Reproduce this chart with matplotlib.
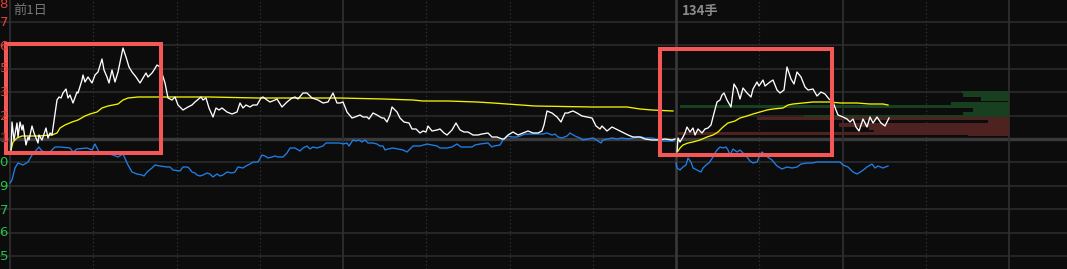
import numpy as np
import matplotlib
matplotlib.use("Agg")
import matplotlib.pyplot as plt
from matplotlib.patches import Rectangle

# ---------------- data (time units: prev day 0..666, today 666..999; value: offset from prev close) ----------------
prev_price_t = [1, 2, 4, 7, 8, 10, 12, 13, 16, 18, 19, 22, 24, 28, 29, 32, 36, 38, 40, 42,
                47, 49, 51, 53, 56, 58, 60, 63, 67, 68, 72, 73, 75, 78, 80, 82, 85, 88, 92, 94,
                97, 99, 102, 105, 108, 113, 116, 119, 122, 126, 130, 133, 136, 138, 142, 144, 147, 150,
                155, 158, 162, 165, 168, 173, 178, 182, 185, 191, 193, 196, 199, 203, 206, 209, 212,
                217, 222, 227, 230, 233, 236, 240, 243, 247, 251, 253, 257, 260, 265, 267, 272, 277,
                282, 285, 288, 293, 297, 302, 308, 313, 318, 323, 327, 330, 333, 337, 342, 345, 350,
                353, 357, 359, 363, 367, 372, 374, 377, 380, 382, 387, 390, 394, 399, 402, 406, 410,
                413, 416, 418, 422, 427, 430, 434, 437, 442, 446, 450, 454, 458, 463, 468, 472, 478,
                482, 487, 492, 494, 498, 503, 508, 513, 518, 523, 528, 532, 534, 537, 542, 547, 551,
                555, 558, 560, 563, 567, 572, 577, 582, 586, 590, 592, 597, 602, 608, 614, 618, 623,
                627, 630, 635, 642, 648, 655, 662, 665]
prev_price_v = [-11, 17, -1, 16, 2, 17, 9, 14, -6, 2, -1, 13, 6, -4, 4, -1, 11, 1, 6, 4,
                39, 42, 41, 46, 50, 41, 44, 36, 47, 46, 59, 64, 57, 62, 59, 56, 64, 67, 80, 69,
                62, 56, 69, 57, 67, 91, 82, 72, 67, 62, 56, 61, 66, 62, 66, 69, 74, 72,
                56, 41, 39, 42, 34, 29, 32, 34, 37, 42, 39, 41, 31, 22, 31, 29, 31,
                27, 25, 27, 36, 31, 34, 32, 34, 34, 41, 42, 39, 37, 39, 40, 32, 37,
                41, 42, 40, 46, 46, 41, 39, 36, 37, 46, 36, 36, 37, 27, 21, 22, 24,
                22, 22, 20, 26, 24, 21, 21, 17, 24, 32, 27, 21, 17, 16, 10, 10, 6,
                8, 7, 13, 8, 9, 10, 6, 4, 9, 16, 9, 7, 7, 4, 4, 5, 6,
                2, 2, 0, 0, 4, 7, 4, 6, 8, 6, 6, 8, 14, 28, 26, 22, 17,
                26, 26, 27, 28, 26, 23, 22, 21, 13, 10, 13, 8, 12, 9, 6, 4, 2,
                2, 2, 0, -1, -1, 0, -1, 0]

prev_avg_t = [1, 3, 7, 12, 18, 28, 42, 47, 50, 55, 62, 68, 75, 80, 87, 92, 98, 108, 113, 118,
              128, 138, 152, 200, 248, 330, 373, 403, 413, 438, 467, 483, 497, 525, 582, 617,
              630, 642, 663]
prev_avg_v = [-11, -3, 1, 3, 3, 3, 4, 6, 11, 14, 17, 19, 23, 25, 27, 31, 33, 35, 39, 41,
              42, 42, 42, 42, 41, 41, 40, 39, 38, 38, 37, 36, 35, 33, 32, 32,
              30, 29, 28]

prev_flow_t = [0, 2, 5, 8, 13, 18, 22, 29, 31, 35, 40, 45, 50, 60, 63, 67, 77, 82, 85, 89,
               95, 103, 108, 113, 118, 122, 127, 132, 134, 137, 142, 145, 150, 157, 160, 163,
               170, 173, 177, 179, 182, 185, 187, 190, 193, 197, 200, 203, 207, 210, 213, 217,
               222, 225, 228, 233, 236, 240, 243, 248, 252, 255, 258, 262, 265, 268, 273, 277,
               280, 285, 290, 293, 297, 300, 303, 307, 310, 313, 316, 323, 330, 333, 337, 339,
               343, 346, 349, 352, 355, 358, 363, 367, 370, 373, 375, 378, 383, 388, 393, 397,
               400, 403, 410, 417, 422, 427, 430, 437, 442, 447, 451, 457, 462, 465, 470, 478,
               482, 484, 490, 493, 498, 502, 507, 510, 515, 522, 528, 533, 537, 542, 545, 548,
               552, 557, 560, 565, 570, 573, 578, 583, 588, 591, 593, 598, 602, 607, 612, 618,
               623, 628, 632, 635, 642, 645, 652, 658, 664]
prev_flow_v = [-44, -41, -29, -24, -26, -23, -16, -8, -11, -14, -13, -8, -8, -9, -13, -10, -9, -11, -5, -13,
               -14, -16, -18, -15, -26, -33, -35, -36, -37, -33, -29, -26, -27, -28, -28, -31,
               -32, -28, -28, -29, -33, -34, -36, -37, -36, -34, -35, -38, -35, -37, -36, -33,
               -34, -33, -28, -29, -27, -25, -23, -23, -16, -17, -19, -18, -17, -18, -18, -14,
               -9, -9, -12, -9, -7, -10, -8, -9, -8, -7, -4, -4, -4, -5, -4, -7,
               -1, -2, -1, -3, -1, -4, -4, -5, -7, -7, -11, -10, -9, -10, -11, -13,
               -10, -7, -7, -5, -6, -7, -9, -9, -8, -5, -8, -8, -8, -6, -5, -4,
               -8, -7, -6, -1, 3, 2, 2, 3, 5, 5, 5, 5, 6, 4, 5, 2,
               1, 3, 6, 3, 1, -1, 0, 1, -2, -4, -1, 0, 1, 0, 1, 0,
               1, 2, 2, 1, 1, 0, -2, -2, -2]

today_price_t = [667, 668, 670, 673, 675, 677, 680, 683, 685, 688, 692, 695, 698, 701, 703, 707,
                 710, 712, 714, 717, 721, 724, 727, 730, 733, 737, 741, 743, 747, 749, 753, 755,
                 760, 763, 767, 770, 774, 777, 781, 784, 787, 791, 795, 798, 803, 807, 811, 815,
                 819, 823, 826, 828, 833, 837, 840, 843, 846, 849, 853, 857, 860, 863, 867, 871,
                 875, 879]
today_price_v = [-13, 1, -3, 2, 6, 12, 7, 11, 4, 10, 6, 10, 11, 14, 22, 37,
                 39, 44, 46, 39, 32, 55, 50, 40, 51, 46, 42, 50, 57, 53, 59, 53,
                 57, 59, 49, 46, 49, 72, 60, 55, 67, 62, 52, 49, 50, 43, 47, 45,
                 40, 37, 29, 24, 22, 20, 17, 20, 12, 8, 20, 12, 22, 16, 22, 16,
                 13, 21]

today_avg_t = [668, 670, 673, 678, 683, 690, 697, 703, 708, 713, 718, 725, 730, 737, 743, 750,
               757, 763, 773, 778, 783, 793, 803, 820, 830, 847, 860, 873, 878]
today_avg_v = [-12, -9, -6, -4, -3, -1, 2, 4, 7, 12, 16, 18, 21, 23, 25, 27,
               29, 30, 31, 34, 35, 36, 37, 37, 36, 36, 35, 35, 34]

today_flow_t = [666, 667, 670, 673, 676, 678, 681, 683, 687, 691, 693, 696, 699, 703, 705, 707,
                710, 713, 716, 718, 720, 723, 727, 730, 737, 740, 743, 747, 750, 752, 756, 762,
                767, 772, 777, 782, 787, 791, 797, 802, 807, 812, 817, 823, 830, 833, 838, 843,
                847, 852, 857, 862, 865, 868, 873, 878]
today_flow_v = [-24, -29, -31, -28, -26, -19, -23, -29, -31, -33, -29, -26, -24, -18, -14, -11,
                -8, -9, -8, -11, -16, -10, -13, -11, -18, -22, -24, -23, -16, -13, -17, -21,
                -27, -30, -28, -29, -28, -25, -24, -24, -23, -23, -23, -23, -23, -26, -28, -33,
                -35, -32, -28, -25, -29, -27, -29, -27]

# volume-at-price profile (price level, band height, start time, side)
profile_level = [46.8, 44.0, 40.0, 35.7, 32.7, 28.8, 25.5, 23.0, 20.3, 17.3, 13.7, 10.3, 8.0, 5.5, 3.5]
profile_height = [2.3, 3.4, 3.4, 3.3, 2.7, 3.7, 3.0, 3.0, 2.5, 3.3, 4.0, 2.7, 2.0, 3.0, 1.0]
profile_start = [951, 953, 971, 941, 670, 963, 953, 794, 747, 978, 829, 859, 864, 667, 958]
profile_side = ["buy"] * 8 + ["sell"] * 7
profile_end = 999

# highlight boxes (time range, value range)
highlight_t = [(-4, 151), (650, 822)]
highlight_v = [(-14, 95), (-15.5, 90)]

# axis labels (last visible character of price ticks)
tick_levels = [134, 117, 93, 70, 46, 23, 0, -24, -47, -71, -94, -118]
tick_text = ["8", "7", "6", "5", "3", "2", "1", "0", "9", "7", "6", "5"]

grid_step_v = 23.4
grid_step_t = 83.25

# ---------------- drawing ----------------
BG = "#0c0c0c"
fig = plt.figure(figsize=(10.67, 2.69), dpi=100, facecolor=BG)
ax = fig.add_axes([0, 0, 1, 1], facecolor=BG)
ax.set_xlim(-10, 1057)
ax.set_ylim(-130, 139)
ax.axis("off")

# horizontal grid
for k in range(-5, 6):
    if k == 0:
        continue
    ax.axhline(k * grid_step_v, color="#2b2b2b", lw=1.2, zorder=1)
ax.axhline(0, color="#3a3a3a", lw=2.4, zorder=1)

# vertical grid
for k in range(13):
    x = k * grid_step_t
    if k in (0, 4, 10, 12):
        ax.axvline(x, color="#2e2e2e", lw=1.3, zorder=1)
    elif k == 8:
        ax.axvline(x, color="#3a3a3a", lw=1.8, zorder=1)
    else:
        ax.axvline(x, color="#333333", lw=0.9, ls=(0, (1, 2)), zorder=1)

# volume profile
for lvl, h, st, side in zip(profile_level, profile_height, profile_start, profile_side):
    col = "#173f20" if side == "buy" else "#4f2222"
    ax.barh(lvl, profile_end - st, left=st, height=h, color=col, lw=0, zorder=2)

# lines
ax.plot(prev_flow_t, prev_flow_v, color="#1f7fe6", lw=0.95, zorder=3)
ax.plot(today_flow_t, today_flow_v, color="#1f7fe6", lw=0.95, zorder=3)
ax.plot(prev_avg_t, prev_avg_v, color="#f2f200", lw=0.95, zorder=4)
ax.plot(today_avg_t, today_avg_v, color="#f2f200", lw=0.95, zorder=4)
ax.plot(prev_price_t, prev_price_v, color="#ffffff", lw=0.95, zorder=5)
ax.plot(today_price_t, today_price_v, color="#ffffff", lw=0.95, zorder=5)

# highlight boxes
for (t0, t1), (v0, v1) in zip(highlight_t, highlight_v):
    ax.add_patch(Rectangle((t0, v0), t1 - t0, v1 - v0, fill=False,
                           edgecolor="#f55656", lw=2.9, zorder=6))

# left tick characters
for lvl, s in zip(tick_levels, tick_text):
    col = "#e2403a" if lvl > 0 else ("#27c24a" if lvl < 0 else "#b03030")
    ax.text(-10.5, lvl, s, color=col, fontsize=9.5, ha="left", va="center", zorder=7,
            family=["DejaVu Sans"])

# header texts
ax.text(3, 129, "前1日", color="#767676", fontsize=9.5, ha="left", va="center",
        family=["Noto Sans CJK SC", "DejaVu Sans"], zorder=7)
ax.text(672, 128, "134手", color="#8a8a8a", fontsize=9.5, ha="left", va="center",
        fontweight="bold", family=["Noto Sans CJK SC", "DejaVu Sans"], zorder=7)

fig.savefig("out.png", dpi=100, facecolor=BG)
